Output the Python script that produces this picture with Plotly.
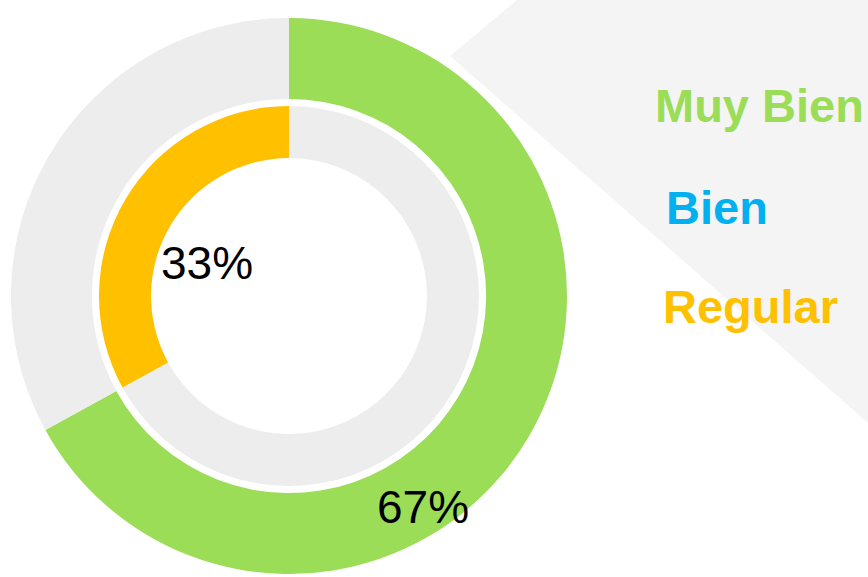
import plotly.graph_objects as go

# ---- data ----
categories = ["Muy Bien", "Bien", "Regular"]
percentages = [67, 0, 33]
category_colors = ["#9bdd56", "#00b0f0", "#ffc000"]
remainder_color = "#ededed"

W, H = 868, 577
fig = go.Figure()

# outer ring: Muy Bien (clockwise from 12 o'clock)
fig.add_trace(go.Pie(
    values=[percentages[0], 100 - percentages[0]],
    labels=[categories[0], "Resto"],
    marker=dict(colors=[category_colors[0], remainder_color], line=dict(width=0)),
    hole=0.709, sort=False, direction="clockwise", rotation=0,
    textinfo="none", showlegend=False,
    domain=dict(x=[11 / W, 567 / W], y=[1 - 574 / H, 1 - 18 / H]),
))

# inner ring: Regular (ends at 12 o'clock)
fig.add_trace(go.Pie(
    values=[100 - percentages[2], percentages[2]],
    labels=["Resto ", categories[2]],
    marker=dict(colors=[remainder_color, category_colors[2]], line=dict(width=0)),
    hole=0.726, sort=False, direction="clockwise", rotation=0,
    textinfo="none", showlegend=False,
    domain=dict(x=[99 / W, 479 / W], y=[1 - 486 / H, 1 - 106 / H]),
))

annotations = [
    dict(x=423 / W, y=1 - 507 / H, text=f"{percentages[0]}%", showarrow=False,
         xanchor="center", yanchor="middle",
         font=dict(family="Liberation Sans, Arial", size=46, color="#000000")),
    dict(x=207 / W, y=1 - 263 / H, text=f"{percentages[2]}%", showarrow=False,
         xanchor="center", yanchor="middle",
         font=dict(family="Liberation Sans, Arial", size=46, color="#000000")),
]
legend_pos = [(653, 105), (664, 207), (661, 306)]
for name, col, (px, py) in zip(categories, category_colors, legend_pos):
    annotations.append(dict(
        x=px / W, y=1 - py / H, text=f"<b>{name}</b>", showarrow=False,
        xanchor="left", yanchor="middle",
        font=dict(family="Liberation Sans, Arial", size=47, color=col)))

fig.update_layout(
    width=W, height=H,
    margin=dict(l=0, r=0, t=0, b=0),
    paper_bgcolor="white", plot_bgcolor="white",
    annotations=annotations,
    shapes=[dict(
        type="path", xref="paper", yref="paper", layer="below",
        path=f"M {517 / W} 1 L 1 1 L 1 {1 - 423 / H} L {450 / W} {1 - 56 / H} Z",
        fillcolor="#f4f4f4", line=dict(width=0))],
)

fig.write_html(
    "out.html",
    config={"displayModeBar": False},
    post_script="document.body.style.margin='0';document.body.style.overflow='hidden';",
)
